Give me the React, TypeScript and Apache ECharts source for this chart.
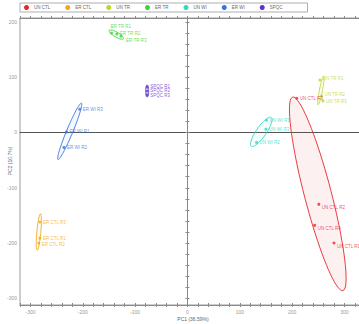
import React, { useEffect, useRef } from "react";
import * as echarts from "echarts";

// ---- data ----
const groups = ["UN CTL", "ER CTL", "UN TR", "ER TR", "UN WI", "ER WI", "SPQC"];

const unCtlPts = [[209, 62], [251, -130], [243, -168], [280, -200]];
const unCtlNames = ["UN CTL R3", "UN CTL R2", "UN CTL R4", "UN CTL R1"];
const erCtlPts = [[-282, -162], [-282, -191], [-284, -200]];
const erCtlNames = ["ER CTL R3", "ER CTL R1", "ER CTL R2"];
const unTrPts = [[253, 95], [256, 66], [259, 57]];
const unTrNames = ["UN TR R1", "UN TR R2", "UN TR R3"];
const erTrPts = [[-145, 180], [-135, 178], [-127, 174]];
const erTrNames = ["ER TR R1", "ER TR R2", "ER TR R3"];
const unWiPts = [[151, 22], [150, 6], [132, -18]];
const unWiNames = ["UN WI R1", "UN WI R3", "UN WI R2"];
const erWiPts = [[-206, 42], [-231, 1], [-236, -27]];
const erWiNames = ["ER WI R3", "ER WI R1", "ER WI R2"];
const spqcPts = [[-77, 82], [-77, 75], [-77, 68]];
const spqcNames = ["SPQC R1", "SPQC R2", "SPQC R3"];

// confidence ellipses: [centerX, centerY, majorX, majorY, minorX, minorY] (data units)
const ellUnCtl = [249, -111, -48, 175, 25, 6];
const ellErCtl = [-284, -180, 3.2, 33, 3.8, -0.4];
const ellUnTr = [255, 76, 5.4, 26, 2.9, -0.5];
const ellErTr = [-136, 177, 13.4, -7.6, -2.5, -3.8];
const ellUnWi = [141, 1, 19, 26, 7.8, -5.2];
const ellErWi = [-225, 2, 22.4, 51, 5.5, -2.1];
const ellSpqc = [-77, 75, 0, 11, 2.9, 0];

const xLabels = [-300, -200, -100, 0, 100, 200, 300];
const yLabels = [-300, -200, -100, 0, 100, 200];

const X_MIN = -320;
const X_MAX = 340;
const Y_MIN = -312;
const Y_MAX = 207;

// ---- styles ----
const colors = ["#e8262b", "#f2a81d", "#bcd62a", "#3bd43b", "#2fd9c3", "#3a74e0", "#5a32d2"];
// per-point label offsets [dx, dy] in pixels
const labelOffsets = [
  [[0, 0], [0, 3], [0, 3], [0, 3]],
  [[0, 0], [0, 0], [0, 1]],
  [[0, -1], [0, -1], [0, 1]],
  [[-4, -6], [0, -1], [2, 4]],
  [[0, 0], [0, 0], [0, 0]],
  [[0, 0], [0, 0], [0, 0]],
  [[0, -1], [0, 0], [0, 1]],
];
const fills = [
  "rgba(232,38,43,0.07)",
  "rgba(242,168,29,0.05)",
  "rgba(188,214,42,0.05)",
  "rgba(59,212,59,0.05)",
  "rgba(47,217,195,0.05)",
  "rgba(58,116,224,0.05)",
  "rgba(90,50,210,0.05)",
];

const allPts = [unCtlPts, erCtlPts, unTrPts, erTrPts, unWiPts, erWiPts, spqcPts];
const allNames = [unCtlNames, erCtlNames, unTrNames, erTrNames, unWiNames, erWiNames, spqcNames];
const allEll = [ellUnCtl, ellErCtl, ellUnTr, ellErTr, ellUnWi, ellErWi, ellSpqc];

function stepTicks(from: number, to: number, step: number) {
  const out: number[] = [];
  for (let v = from; v <= to; v += step) out.push(v);
  return out;
}
const xTicks = stepTicks(-320, 340, 20);
const yTicks = stepTicks(-300, 200, 20);

export default function App() {
  const ref = useRef<HTMLDivElement>(null);
  useEffect(() => {
    if (!ref.current) return;
    const chart = echarts.init(ref.current, undefined, { renderer: "svg" });
    const gray = "#8a8a8a";
    const xCommon = {
      type: "value",
      min: X_MIN,
      max: X_MAX,
      splitLine: { show: false },
      gridIndex: 0,
    };
    const yCommon = {
      type: "value",
      min: Y_MIN,
      max: Y_MAX,
      splitLine: { show: false },
      gridIndex: 0,
    };

    const ellipseSeries = groups.map((g, i) => ({
      type: "custom",
      name: g,
      xAxisIndex: 0,
      yAxisIndex: 0,
      data: [allEll[i]],
      dimensions: ["cx", "cy", "ux", "uy", "vx", "vy"],
      encode: { x: 0, y: 1 },
      silent: true,
      z: 1,
      renderItem: (params: any, api: any) => {
        const cx = api.value(0), cy = api.value(1);
        const ux = api.value(2), uy = api.value(3);
        const vx = api.value(4), vy = api.value(5);
        const pts: number[][] = [];
        const n = 80;
        for (let k = 0; k < n; k++) {
          const t = (k / n) * Math.PI * 2;
          pts.push(api.coord([cx + Math.cos(t) * ux + Math.sin(t) * vx, cy + Math.cos(t) * uy + Math.sin(t) * vy]));
        }
        return {
          type: "polygon",
          shape: { points: pts },
          style: { fill: fills[i], stroke: colors[i], lineWidth: 0.9 },
        };
      },
    }));

    const scatterSeries = groups.map((g, i) => ({
      type: "scatter",
      name: g,
      xAxisIndex: 0,
      yAxisIndex: 0,
      symbol: "circle",
      symbolSize: 3,
      z: 3,
      itemStyle: { color: colors[i] },
      data: allPts[i].map((p, k) => ({
        value: p,
        name: allNames[i][k],
        label: { offset: labelOffsets[i][k] },
      })),
      label: {
        show: true,
        position: "right",
        distance: 1.5,
        formatter: (p: any) => p.name,
        fontSize: 4.5,
        color: colors[i],
      },
    }));

    chart.setOption({
      animation: false,
      textStyle: { fontFamily: "Liberation Sans, Arial, sans-serif" },
      legend: {
        data: groups.map((g, i) => ({ name: g, icon: "circle", itemStyle: { color: colors[i] } })),
        left: 20,
        top: 3,
        orient: "horizontal",
        itemWidth: 5,
        itemHeight: 5,
        itemGap: 15,
        padding: [2, 25, 2, 4],
        borderColor: "#999",
        borderWidth: 0.8,
        selectedMode: false,
        textStyle: { fontSize: 4.5, color: "#666" },
      },
      grid: {
        left: 20,
        top: 18,
        width: 345.4,
        height: 287,
        show: true,
        borderColor: "#9a9a9a",
        borderWidth: 1,
        backgroundColor: "transparent",
      },
      xAxis: [
        {
          ...xCommon,
          position: "bottom",
          axisLine: { onZero: false, lineStyle: { color: gray } },
          axisTick: { customValues: xTicks, length: 2, lineStyle: { color: gray } },
          axisLabel: { customValues: xLabels, fontSize: 5, color: "#9a9a9a", margin: 4 },
        },
        {
          ...xCommon,
          position: "bottom",
          axisLine: { show: false, onZero: false },
          axisTick: { inside: true, customValues: xTicks, length: 2, lineStyle: { color: gray } },
          axisLabel: { show: false },
        },
        {
          ...xCommon,
          position: "top",
          axisLine: { onZero: false, lineStyle: { color: gray } },
          axisTick: { customValues: xTicks, length: 2, lineStyle: { color: gray } },
          axisLabel: { show: false },
        },
        {
          ...xCommon,
          position: "bottom",
          axisLine: { onZero: true, onZeroAxisIndex: 0, lineStyle: { color: "#555", width: 1 } },
          axisTick: { show: false },
          axisLabel: { show: false },
        },
      ],
      yAxis: [
        {
          ...yCommon,
          position: "left",
          axisLine: { onZero: true, onZeroAxisIndex: 0, lineStyle: { color: gray } },
          axisTick: { customValues: yTicks, length: 2, lineStyle: { color: gray } },
          axisLabel: { customValues: yLabels, fontSize: 5, color: "#9a9a9a", margin: 3 },
        },
        {
          ...yCommon,
          position: "right",
          axisLine: { onZero: true, onZeroAxisIndex: 0, lineStyle: { color: gray } },
          axisTick: { customValues: yTicks, length: 2, lineStyle: { color: gray } },
          axisLabel: { show: false },
        },
      ],
      graphic: [
        {
          type: "text",
          x: 193,
          y: 319,
          style: { text: "PC1 (36.59%)", fontSize: 5, fill: "#666", align: "center", verticalAlign: "middle", fontFamily: "Liberation Sans, Arial" },
        },
        {
          type: "text",
          x: 10,
          y: 161,
          rotation: Math.PI / 2,
          style: { text: "PC2 (10.7%)", fontSize: 5, fill: "#666", align: "center", verticalAlign: "middle", fontFamily: "Liberation Sans, Arial" },
        },
      ],
      series: [...ellipseSeries, ...scatterSeries],
    });
    return () => chart.dispose();
  }, []);

  return (
    <div style={{ position: "absolute", left: 0, top: 0, width: 359, height: 324, overflow: "hidden", background: "#fff" }}>
      <div ref={ref} style={{ width: 400, height: 324 }} />
    </div>
  );
}
